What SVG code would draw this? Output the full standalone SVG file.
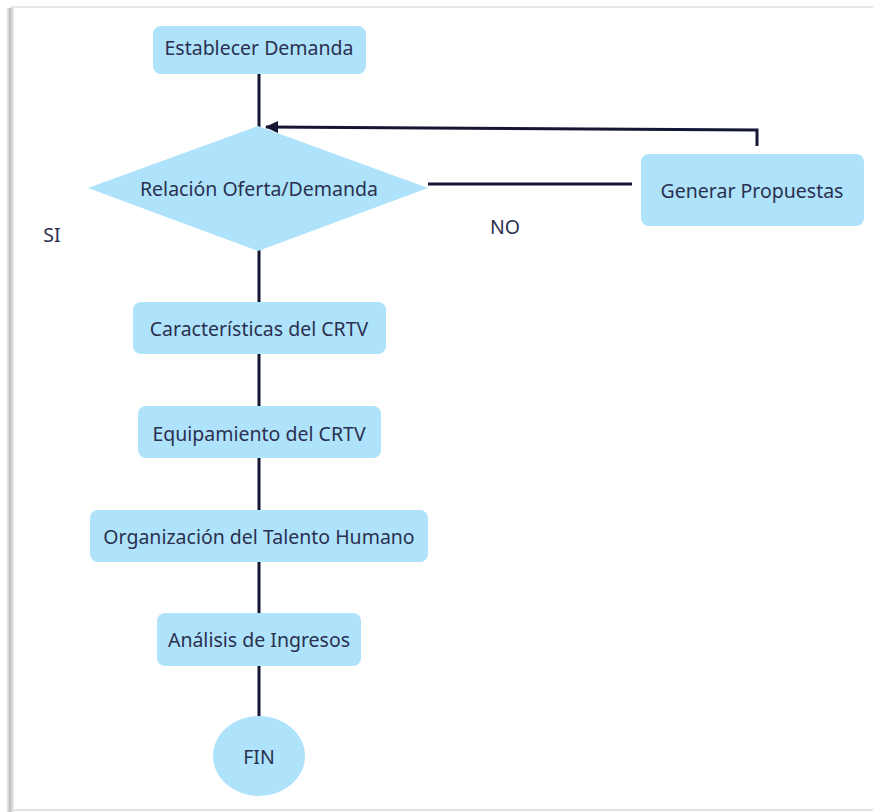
<svg xmlns="http://www.w3.org/2000/svg" width="873" height="812" viewBox="0 0 873 812">
<defs>
<style>
.n{fill:#aee3fb;stroke:none}
.t{font-family:"Noto Sans","Liberation Sans",sans-serif;font-size:19.5px;fill:#2b3050;text-anchor:middle;dominant-baseline:central}
.c{stroke:#141634;stroke-width:3;fill:none}
</style>
<marker id="ah" markerWidth="14" markerHeight="12" refX="12" refY="6" orient="auto" markerUnits="userSpaceOnUse">
<path d="M0,0 L13,6 L0,12 Z" fill="#141634"/>
</marker>
<linearGradient id="sh" x1="0" x2="1" y1="0" y2="0">
<stop offset="0" stop-color="#ffffff"/>
<stop offset="0.5" stop-color="#bdbdbd"/>
<stop offset="1" stop-color="#f0f0f0"/>
</linearGradient>
</defs>
<rect width="873" height="812" fill="#ffffff"/>
<g id="frame">
<rect x="6" y="8" width="8" height="804" fill="url(#sh)"/>
<line x1="10" y1="7" x2="873" y2="7" stroke="#e6e6e6" stroke-width="2"/>
<line x1="12" y1="810" x2="873" y2="810" stroke="#e3e3e3" stroke-width="2"/>
</g>
<g id="connectors">
<line class="c" x1="259" y1="74" x2="259" y2="127"/>
<polyline class="c" points="757,146 757,130 266,127" marker-end="url(#ah)"/>
<line class="c" x1="428" y1="184" x2="632" y2="184"/>
<line class="c" x1="259" y1="250" x2="259" y2="302"/>
<line class="c" x1="259" y1="354" x2="259" y2="406"/>
<line class="c" x1="259" y1="458" x2="259" y2="510"/>
<line class="c" x1="259" y1="562" x2="259" y2="613"/>
<line class="c" x1="259" y1="666" x2="259" y2="717"/>
</g>
<g id="establecer">
<rect class="n" x="153" y="26" width="213" height="48" rx="8"/>
<text class="t" x="259" y="47">Establecer Demanda</text>
</g>
<g id="relacion">
<polygon class="n" points="258,126 428,188 258,251 88,188"/>
<text class="t" x="259" y="188">Relación Oferta/Demanda</text>
</g>
<g id="generar">
<rect class="n" x="641" y="154" width="223" height="72" rx="8"/>
<text class="t" x="752" y="190">Generar Propuestas</text>
</g>
<g id="labels">
<text class="t" x="505" y="226">NO</text>
<text class="t" x="52" y="234">SI</text>
</g>
<g id="caracteristicas">
<rect class="n" x="133" y="302" width="253" height="52" rx="8"/>
<text class="t" x="259" y="328">Características del CRTV</text>
</g>
<g id="equipamiento">
<rect class="n" x="138" y="406" width="243" height="52" rx="8"/>
<text class="t" x="259" y="433">Equipamiento del CRTV</text>
</g>
<g id="organizacion">
<rect class="n" x="90" y="510" width="338" height="52" rx="8"/>
<text class="t" x="259" y="536">Organización del Talento Humano</text>
</g>
<g id="analisis">
<rect class="n" x="157" y="613" width="204" height="53" rx="8"/>
<text class="t" x="259" y="639">Análisis de Ingresos</text>
</g>
<g id="fin">
<ellipse class="n" cx="259" cy="756" rx="46" ry="40"/>
<text class="t" x="259" y="756">FIN</text>
</g>
</svg>
